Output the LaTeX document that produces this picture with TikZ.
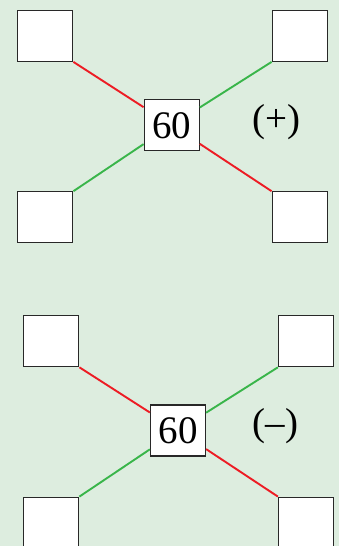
\documentclass[tikz,border=0pt]{standalone}
\usepackage{fontspec}
\setmainfont{Liberation Serif}
\definecolor{bgcol}{RGB}{221,237,223}
\definecolor{boxgray}{RGB}{40,40,40}
\definecolor{lred}{RGB}{237,28,36}
\definecolor{lgreen}{RGB}{57,181,74}
\begin{document}
\begin{tikzpicture}[x=1pt, y=-1pt,
  every node/.style={font=\fontsize{39}{42}\selectfont},
  box/.style={draw=boxgray, fill=white, line width=1.2pt, inner sep=0pt,
    minimum width=55pt, minimum height=51pt},
  redln/.style={draw=lred, line width=1.9pt},
  greenln/.style={draw=lgreen, line width=1.9pt}]
  \fill[bgcol] (0,0) rectangle (339,546);
  \useasboundingbox (0,0) rectangle (339,546);
  % (+)
  \node[box] (tlA)  at (45.3,35.8)   {};
  \node[box] (trA)  at (299.7,35.8)  {};
  \node[box] (midA) at (171.7,125.3) {60};
  \node[box] (blA)  at (45.3,217.3)  {};
  \node[box] (brA)  at (299.7,217.3) {};
  \draw[redln]   (tlA.south east) -- (midA);
  \draw[greenln] (trA.south west) -- (midA);
  \draw[greenln] (blA.north east) -- (midA);
  \draw[redln]   (brA.north west) -- (midA);
  \node[inner sep=0pt] (signA) at (276.7,121.7) {(+)};
  % (-)
  \node[box] (tlB)  at (51.3,341.2)  {};
  \node[box] (trB)  at (306,341.2)   {};
  \node[box] (midB) at (178,430.5)   {60};
  \node[box] (blB)  at (51.3,522.7)  {};
  \node[box] (brB)  at (306,522.7)   {};
  \draw[redln]   (tlB.south east) -- (midB);
  \draw[greenln] (trB.south west) -- (midB);
  \draw[greenln] (blB.north east) -- (midB);
  \draw[redln]   (brB.north west) -- (midB);
  \node[inner sep=0pt] (signB) at (275.5,425.8) {(–)};
\end{tikzpicture}
\end{document}
